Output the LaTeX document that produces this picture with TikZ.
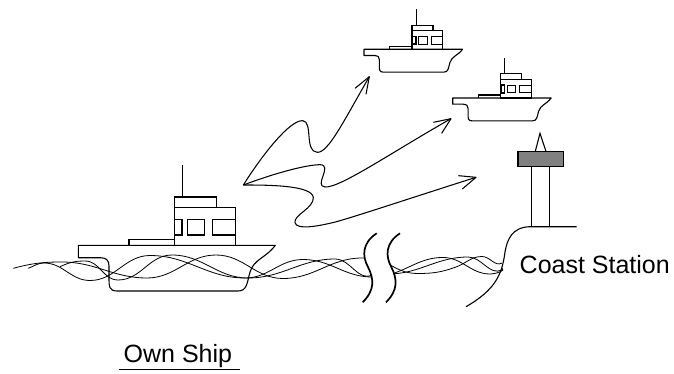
\documentclass[tikz,border=0pt]{standalone}
\usepackage{fontspec}
\setmainfont{Liberation Sans}
\tikzset{
  ln/.style={draw=black,line width=1.1pt,line join=miter},
  wave/.style={draw=black,line width=0.8pt},
  sig/.style={draw=black,line width=1.05pt,line join=round},
  brk/.style={draw=black,line width=1.7pt},
  lbl/.style={inner sep=0pt,font=\fontsize{25}{30}\selectfont,text=black},
  hh/.style={out=0,in=180}
}
\newcommand{\shipdraw}{%
  \draw[ln] (182.7,165) -- (182.7,197);
  \draw[ln] (174.3,197) rectangle (216.3,207.5);
  \draw[ln] (174.3,207.5) rectangle (235.3,245.3);
  \draw[ln,line width=1.5pt] (174.7,219.7) rectangle (182,235);
  \draw[ln] (187.7,219.7) rectangle (204.7,235);
  \draw[ln] (212.7,219.7) rectangle (235.3,235);
  \draw[ln] (129,245.3) -- (129,239.3) -- (174.3,239.3);
  \draw[ln,line join=round] (78.3,245.3) -- (275.3,245.3)
     .. controls (266,258) and (254,259) .. (250,272)
     .. controls (247,283) and (247,291) .. (238,291)
     -- (117,291) .. controls (109,291) and (109,286) .. (109,279)
     -- (109,266) .. controls (109,260) and (106,257.7) .. (100,257.7)
     -- (78.3,257.7) -- cycle;
}
\begin{document}
\begin{tikzpicture}[x=1pt,y=-1pt]
\useasboundingbox (0,0) rectangle (674,374);
% waves
\draw[wave] (13.3,268.3) to[out=15,in=180] (62,262) to[hh] (147,278) to[hh] (216,255) to[hh] (283,278.5) to[hh] (362,258) -- (372,258);
\draw[wave] (28.3,268.3) to[out=20,in=180] (44,263) to[hh] (90,280.5) to[hh] (150,255.5) to[hh] (245,278) to[hh] (303,259.5) to[hh] (372,277);
\draw[wave] (60,266.7) to[out=25,in=180] (85,261) to[hh] (118,280) to[hh] (172,255) to[hh] (248,278) to[hh] (335,259) to[out=0,in=205] (372,275);
\draw[wave] (385,262) to[out=-30,in=180] (418,273.5) to[out=0,in=200] (456,267) to[out=20,in=180] (482,256.5) to[out=0,in=210] (502,263);
\draw[wave] (388,275) to[out=15,in=180] (443,257.5) to[hh] (490,274) to[out=0,in=-30] (502,268);
\draw[wave] (388,274) to[out=0,in=180] (468,257) to[out=0,in=205] (502,270);
% break
\fill[white] (376.7,233.3) .. controls (362,243) and (362,256) .. (368,267) .. controls (374,279) and (375,290) .. (362.7,302.3)
   -- (386,302.3) .. controls (398.3,290) and (397.3,279) .. (391.3,267) .. controls (385.3,256) and (385.3,243) .. (400,233.3) -- cycle;
\draw[brk] (376.7,233.3) .. controls (362,243) and (362,256) .. (368,267) .. controls (374,279) and (375,290) .. (362.7,302.3);
\draw[brk] (400,233.3) .. controls (385.3,243) and (385.3,256) .. (391.3,267) .. controls (397.3,279) and (398.3,290) .. (386,302.3);
% own ship and the two others
\shipdraw
\begin{scope}[shift={(324.85,-73.35)},scale=0.5]\shipdraw\end{scope}
\begin{scope}[shift={(413.55,-24.65)},scale=0.5]\shipdraw\end{scope}
% signals
\begin{scope}[shift={(230,60)},scale=1/3]
\draw[sig] (40,375) .. controls (100,280) and (180,180) .. (218,182) .. controls (250,184) and (222,275) .. (262,277) .. controls (295,278) and (340,185) .. (418,50);
\draw[sig] (375,85) -- (418,50) -- (408,103);
\draw[sig] (40,375) .. controls (120,345) and (220,315) .. (270,314) .. controls (310,315) and (250,378) .. (285,381) .. controls (330,384) and (480,280) .. (663,176);
\draw[sig] (610,187) -- (663,176) -- (635,220);
\draw[sig] (40,375) .. controls (110,375) and (245,375) .. (250,412) .. controls (252,445) and (190,465) .. (195,488) .. controls (200,510) and (260,500) .. (320,485) .. controls (400,462) and (570,405) .. (738,352);
\draw[sig] (685,347) -- (738,352) -- (697,387);
\end{scope}
% coast
\draw[ln] (576.7,226.7) -- (530,226.7) .. controls (512,227) and (507,240) .. (505,252) .. controls (502,275) and (495,290) .. (466,306.7);
\draw[ln] (531.7,166.7) -- (531.7,226.7);
\draw[ln] (549.7,166.7) -- (549.7,226.7);
\draw[ln,fill=black!50] (518,151.3) rectangle (563.7,166.7);
\draw[ln] (535.3,151.3) -- (540,133.3) -- (546,151.3);
% labels
\node[lbl,anchor=base west] (coast) at (519.5,273) {Coast Station};
\node[lbl,anchor=base west] (own) at (123.5,362.7) {Own Ship};
\draw[line width=1pt] (119.3,369.7) -- (240,369.7);
\end{tikzpicture}
\end{document}
